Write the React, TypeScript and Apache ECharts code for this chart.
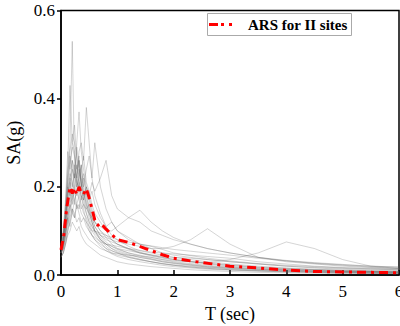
import React, { useEffect, useRef } from "react";
import * as echarts from "echarts";

const periods = [0, 0.04, 0.08, 0.12, 0.16, 0.2, 0.24, 0.28, 0.32, 0.36, 0.4, 0.45, 0.5, 0.55, 0.6, 0.7, 0.8, 0.9, 1.0, 1.2, 1.4, 1.6, 1.8, 2.0, 2.3, 2.6, 3.0, 3.5, 4.0, 4.5, 5.0, 5.5, 6.0];

const rec01 = [0.06,0.08,0.14,0.22,0.3,0.53,0.25,0.2,0.22,0.18,0.15,0.12,0.1,0.09,0.08,0.07,0.06,0.05,0.045,0.04,0.035,0.03,0.025,0.022,0.018,0.015,0.012,0.009,0.007,0.006,0.005,0.004,0.003];
const rec02 = [0.07,0.1,0.16,0.25,0.43,0.3,0.28,0.22,0.26,0.2,0.17,0.14,0.12,0.1,0.09,0.075,0.06,0.055,0.05,0.042,0.036,0.03,0.026,0.022,0.018,0.015,0.012,0.01,0.008,0.007,0.006,0.005,0.004];
const rec03 = [0.06,0.08,0.12,0.18,0.22,0.2,0.25,0.22,0.28,0.3,0.26,0.38,0.3,0.22,0.18,0.14,0.11,0.09,0.08,0.065,0.055,0.05,0.045,0.04,0.035,0.03,0.025,0.02,0.016,0.013,0.011,0.009,0.008];
const rec04 = [0.05,0.07,0.11,0.16,0.2,0.24,0.22,0.3,0.37,0.28,0.24,0.2,0.18,0.15,0.12,0.1,0.085,0.07,0.06,0.05,0.045,0.04,0.035,0.03,0.026,0.022,0.018,0.014,0.011,0.009,0.008,0.007,0.006];
const rec05 = [0.05,0.06,0.09,0.12,0.15,0.18,0.16,0.2,0.22,0.25,0.2,0.24,0.27,0.22,0.3,0.2,0.15,0.12,0.1,0.085,0.07,0.06,0.05,0.045,0.04,0.035,0.03,0.025,0.02,0.017,0.015,0.013,0.012];
const rec06 = [0.04,0.05,0.07,0.1,0.12,0.14,0.13,0.16,0.15,0.18,0.17,0.2,0.18,0.21,0.19,0.22,0.26,0.18,0.15,0.13,0.12,0.1,0.09,0.08,0.07,0.06,0.05,0.04,0.032,0.026,0.022,0.018,0.015];
const rec07 = [0.05,0.06,0.09,0.13,0.16,0.19,0.17,0.15,0.16,0.14,0.13,0.12,0.11,0.1,0.1,0.09,0.085,0.08,0.075,0.07,0.065,0.06,0.06,0.065,0.08,0.105,0.07,0.04,0.03,0.025,0.02,0.017,0.015];
const rec08 = [0.04,0.05,0.07,0.1,0.13,0.15,0.14,0.12,0.13,0.11,0.1,0.09,0.08,0.075,0.07,0.06,0.055,0.05,0.048,0.045,0.043,0.04,0.035,0.032,0.03,0.028,0.035,0.05,0.075,0.06,0.035,0.02,0.015];
const rec09 = [0.06,0.08,0.12,0.18,0.22,0.26,0.24,0.21,0.2,0.18,0.16,0.15,0.14,0.13,0.12,0.11,0.1,0.1,0.11,0.13,0.147,0.12,0.1,0.085,0.07,0.06,0.05,0.04,0.033,0.028,0.024,0.02,0.018];
const rec10 = [0.07,0.09,0.15,0.23,0.28,0.32,0.3,0.27,0.24,0.22,0.19,0.16,0.14,0.12,0.1,0.08,0.065,0.055,0.05,0.04,0.034,0.03,0.026,0.023,0.02,0.017,0.014,0.011,0.009,0.007,0.006,0.005,0.004];
const rec11 = [0.06,0.09,0.13,0.2,0.18,0.26,0.22,0.29,0.25,0.2,0.22,0.18,0.15,0.12,0.1,0.085,0.07,0.06,0.052,0.045,0.04,0.036,0.03,0.026,0.022,0.018,0.015,0.012,0.01,0.008,0.007,0.006,0.005];
const rec12 = [0.05,0.07,0.1,0.14,0.17,0.2,0.23,0.2,0.24,0.21,0.18,0.2,0.17,0.14,0.12,0.1,0.09,0.08,0.07,0.06,0.05,0.045,0.04,0.036,0.031,0.027,0.023,0.018,0.015,0.012,0.01,0.009,0.008];
const rec13 = [0.06,0.08,0.11,0.17,0.21,0.18,0.22,0.25,0.2,0.23,0.27,0.21,0.19,0.16,0.14,0.12,0.1,0.08,0.07,0.058,0.05,0.043,0.038,0.034,0.03,0.026,0.022,0.017,0.014,0.012,0.01,0.008,0.007];
const rec14 = [0.04,0.05,0.07,0.09,0.1,0.12,0.11,0.1,0.11,0.09,0.08,0.07,0.065,0.06,0.055,0.045,0.04,0.035,0.03,0.025,0.022,0.019,0.017,0.015,0.012,0.01,0.008,0.006,0.005,0.004,0.003,0.003,0.002];
const rec15 = [0.05,0.07,0.1,0.15,0.19,0.16,0.2,0.18,0.21,0.17,0.19,0.16,0.13,0.11,0.095,0.08,0.07,0.065,0.06,0.055,0.05,0.046,0.042,0.04,0.038,0.035,0.03,0.025,0.02,0.016,0.013,0.011,0.01];
const rec16 = [0.07,0.1,0.17,0.28,0.24,0.3,0.34,0.26,0.22,0.25,0.2,0.17,0.14,0.12,0.1,0.08,0.07,0.06,0.055,0.047,0.04,0.035,0.03,0.027,0.023,0.019,0.016,0.013,0.011,0.009,0.008,0.007,0.006];
const rec17 = [0.05,0.06,0.08,0.11,0.14,0.17,0.19,0.16,0.18,0.2,0.23,0.19,0.17,0.19,0.16,0.13,0.11,0.12,0.1,0.08,0.07,0.065,0.058,0.05,0.044,0.038,0.032,0.026,0.022,0.019,0.016,0.014,0.012];
const rec18 = [0.06,0.08,0.13,0.19,0.23,0.21,0.19,0.22,0.18,0.16,0.14,0.13,0.11,0.09,0.08,0.065,0.055,0.048,0.042,0.035,0.03,0.026,0.022,0.019,0.016,0.013,0.011,0.009,0.007,0.006,0.005,0.004,0.004];
const rec19 = [0.04,0.06,0.09,0.13,0.11,0.15,0.13,0.16,0.14,0.12,0.13,0.11,0.1,0.09,0.085,0.075,0.07,0.068,0.065,0.06,0.056,0.052,0.05,0.048,0.045,0.042,0.038,0.03,0.025,0.02,0.017,0.015,0.014];
const rec20 = [0.06,0.09,0.14,0.21,0.27,0.24,0.2,0.23,0.26,0.22,0.18,0.15,0.16,0.13,0.11,0.09,0.08,0.075,0.07,0.06,0.052,0.045,0.04,0.035,0.03,0.025,0.02,0.016,0.013,0.011,0.009,0.008,0.007];
const rec21 = [0.05,0.07,0.12,0.2,0.25,0.29,0.27,0.24,0.27,0.2,0.17,0.19,0.15,0.13,0.11,0.09,0.075,0.065,0.058,0.05,0.043,0.037,0.032,0.028,0.024,0.02,0.017,0.014,0.012,0.01,0.008,0.007,0.006];
const rec22 = [0.05,0.07,0.1,0.13,0.16,0.14,0.17,0.19,0.17,0.15,0.16,0.14,0.12,0.11,0.1,0.095,0.09,0.085,0.08,0.075,0.07,0.066,0.062,0.058,0.054,0.05,0.045,0.038,0.032,0.027,0.023,0.02,0.018];

const records = [rec01, rec02, rec03, rec04, rec05, rec06, rec07, rec08, rec09, rec10, rec11, rec12, rec13, rec14, rec15, rec16, rec17, rec18, rec19, rec20, rec21, rec22];

const arsPeriods = [0, 0.05, 0.1, 0.16, 0.2, 0.24, 0.28, 0.32, 0.36, 0.4, 0.45, 0.5, 0.55, 0.6, 0.65, 0.7, 0.8, 0.9, 1.0, 1.2, 1.5, 1.8, 2.0, 2.4, 3.0, 3.5, 4.0, 4.5, 5.0, 5.5, 6.0];
const arsValues = [0.057, 0.09, 0.15, 0.2, 0.185, 0.198, 0.182, 0.2, 0.186, 0.183, 0.196, 0.175, 0.15, 0.125, 0.112, 0.118, 0.104, 0.092, 0.08, 0.074, 0.06, 0.046, 0.038, 0.03, 0.02, 0.016, 0.011, 0.008, 0.007, 0.006, 0.005];

const xTicks = [0, 1, 2, 3, 4, 5, 6];
const yTicks = [0, 0.2, 0.4, 0.6];
const arsName = "ARS for II sites";

export default function App() {
  const ref = useRef<HTMLDivElement>(null);
  useEffect(() => {
    if (!ref.current) return;
    const chart = echarts.init(ref.current, null, { renderer: "svg" });
    const font = "serif";
    const graySeries = records.map((rec, i) => ({
      type: "line",
      name: "rec" + (i + 1),
      data: periods.map((t, j) => [t, rec[j]]),
      showSymbol: false,
      silent: true,
      lineStyle: { color: "rgba(90,90,90,0.32)", width: 0.8 },
      z: 1,
    }));
    chart.setOption({
      animation: false,
      backgroundColor: "#fff",
      textStyle: { fontFamily: font },
      grid: {
        left: 61,
        right: 1,
        top: 10.5,
        bottom: 51,
        show: true,
        borderColor: "#000",
        borderWidth: 1.5,
        outerBoundsMode: "none",
        containLabel: false,
      },
      graphic: [
        {
          type: "rect",
          shape: { x: 207.5, y: 13.5, width: 144, height: 22 },
          style: { fill: "#fff", stroke: "#aaa", lineWidth: 1 },
          z: 10,
        },
        {
          type: "line",
          shape: { x1: 209, y1: 24.5, x2: 218, y2: 24.5 },
          style: { stroke: "#ff0000", lineWidth: 3 },
          z: 11,
        },
        {
          type: "rect",
          shape: { x: 221, y: 23, width: 3, height: 3 },
          style: { fill: "#ff0000" },
          z: 11,
        },
        {
          type: "rect",
          shape: { x: 229, y: 23, width: 3, height: 3 },
          style: { fill: "#ff0000" },
          z: 11,
        },
        {
          type: "text",
          x: 248,
          y: 24.5,
          style: {
            text: arsName,
            fontFamily: font,
            fontWeight: "bold",
            fontSize: 15,
            fill: "#000",
            verticalAlign: "middle",
          },
          z: 11,
        },
      ],
      xAxis: {
        type: "value",
        min: 0,
        max: 6,
        interval: 1,
        name: "T (sec)",
        nameLocation: "middle",
        nameGap: 29,
        nameTextStyle: { fontFamily: font, fontSize: 18, color: "#000" },
        axisLine: { show: true, onZero: false, lineStyle: { color: "#000", width: 1.5 } },
        axisTick: { show: true, inside: true, length: 5, lineStyle: { color: "#000", width: 1.5 } },
        axisLabel: {
          fontFamily: font,
          fontSize: 17,
          color: "#000",
          margin: 8,
          formatter: (v: number) => (xTicks.includes(v) ? String(v) : ""),
        },
        splitLine: { show: false },
      },
      yAxis: {
        type: "value",
        min: 0,
        max: 0.6,
        interval: 0.2,
        name: "SA(g)",
        nameLocation: "middle",
        nameGap: 32,
        nameTextStyle: { fontFamily: font, fontSize: 18, color: "#000" },
        axisLine: { show: true, onZero: false, lineStyle: { color: "#000", width: 1.5 } },
        axisTick: { show: true, inside: false, length: 4, lineStyle: { color: "#000", width: 1.5 } },
        axisLabel: {
          fontFamily: font,
          fontSize: 17,
          color: "#000",
          margin: 6,
          formatter: (v: number) => (yTicks.some((t) => Math.abs(t - v) < 1e-9) ? v.toFixed(1) : ""),
        },
        splitLine: { show: false },
      },
      series: [
        ...graySeries,
        {
          type: "line",
          name: arsName,
          data: arsPeriods.map((t, j) => [t, arsValues[j]]),
          showSymbol: false,
          symbol: "none",
          color: "#ff0000",
          lineStyle: { color: "#ff0000", width: 3, type: [9, 5, 3, 5] },
          z: 5,
        },
      ],
    });
    return () => chart.dispose();
  }, []);
  return <div ref={ref} style={{ width: 400, height: 326, position: "absolute", left: 0, top: 0 }} />;
}
